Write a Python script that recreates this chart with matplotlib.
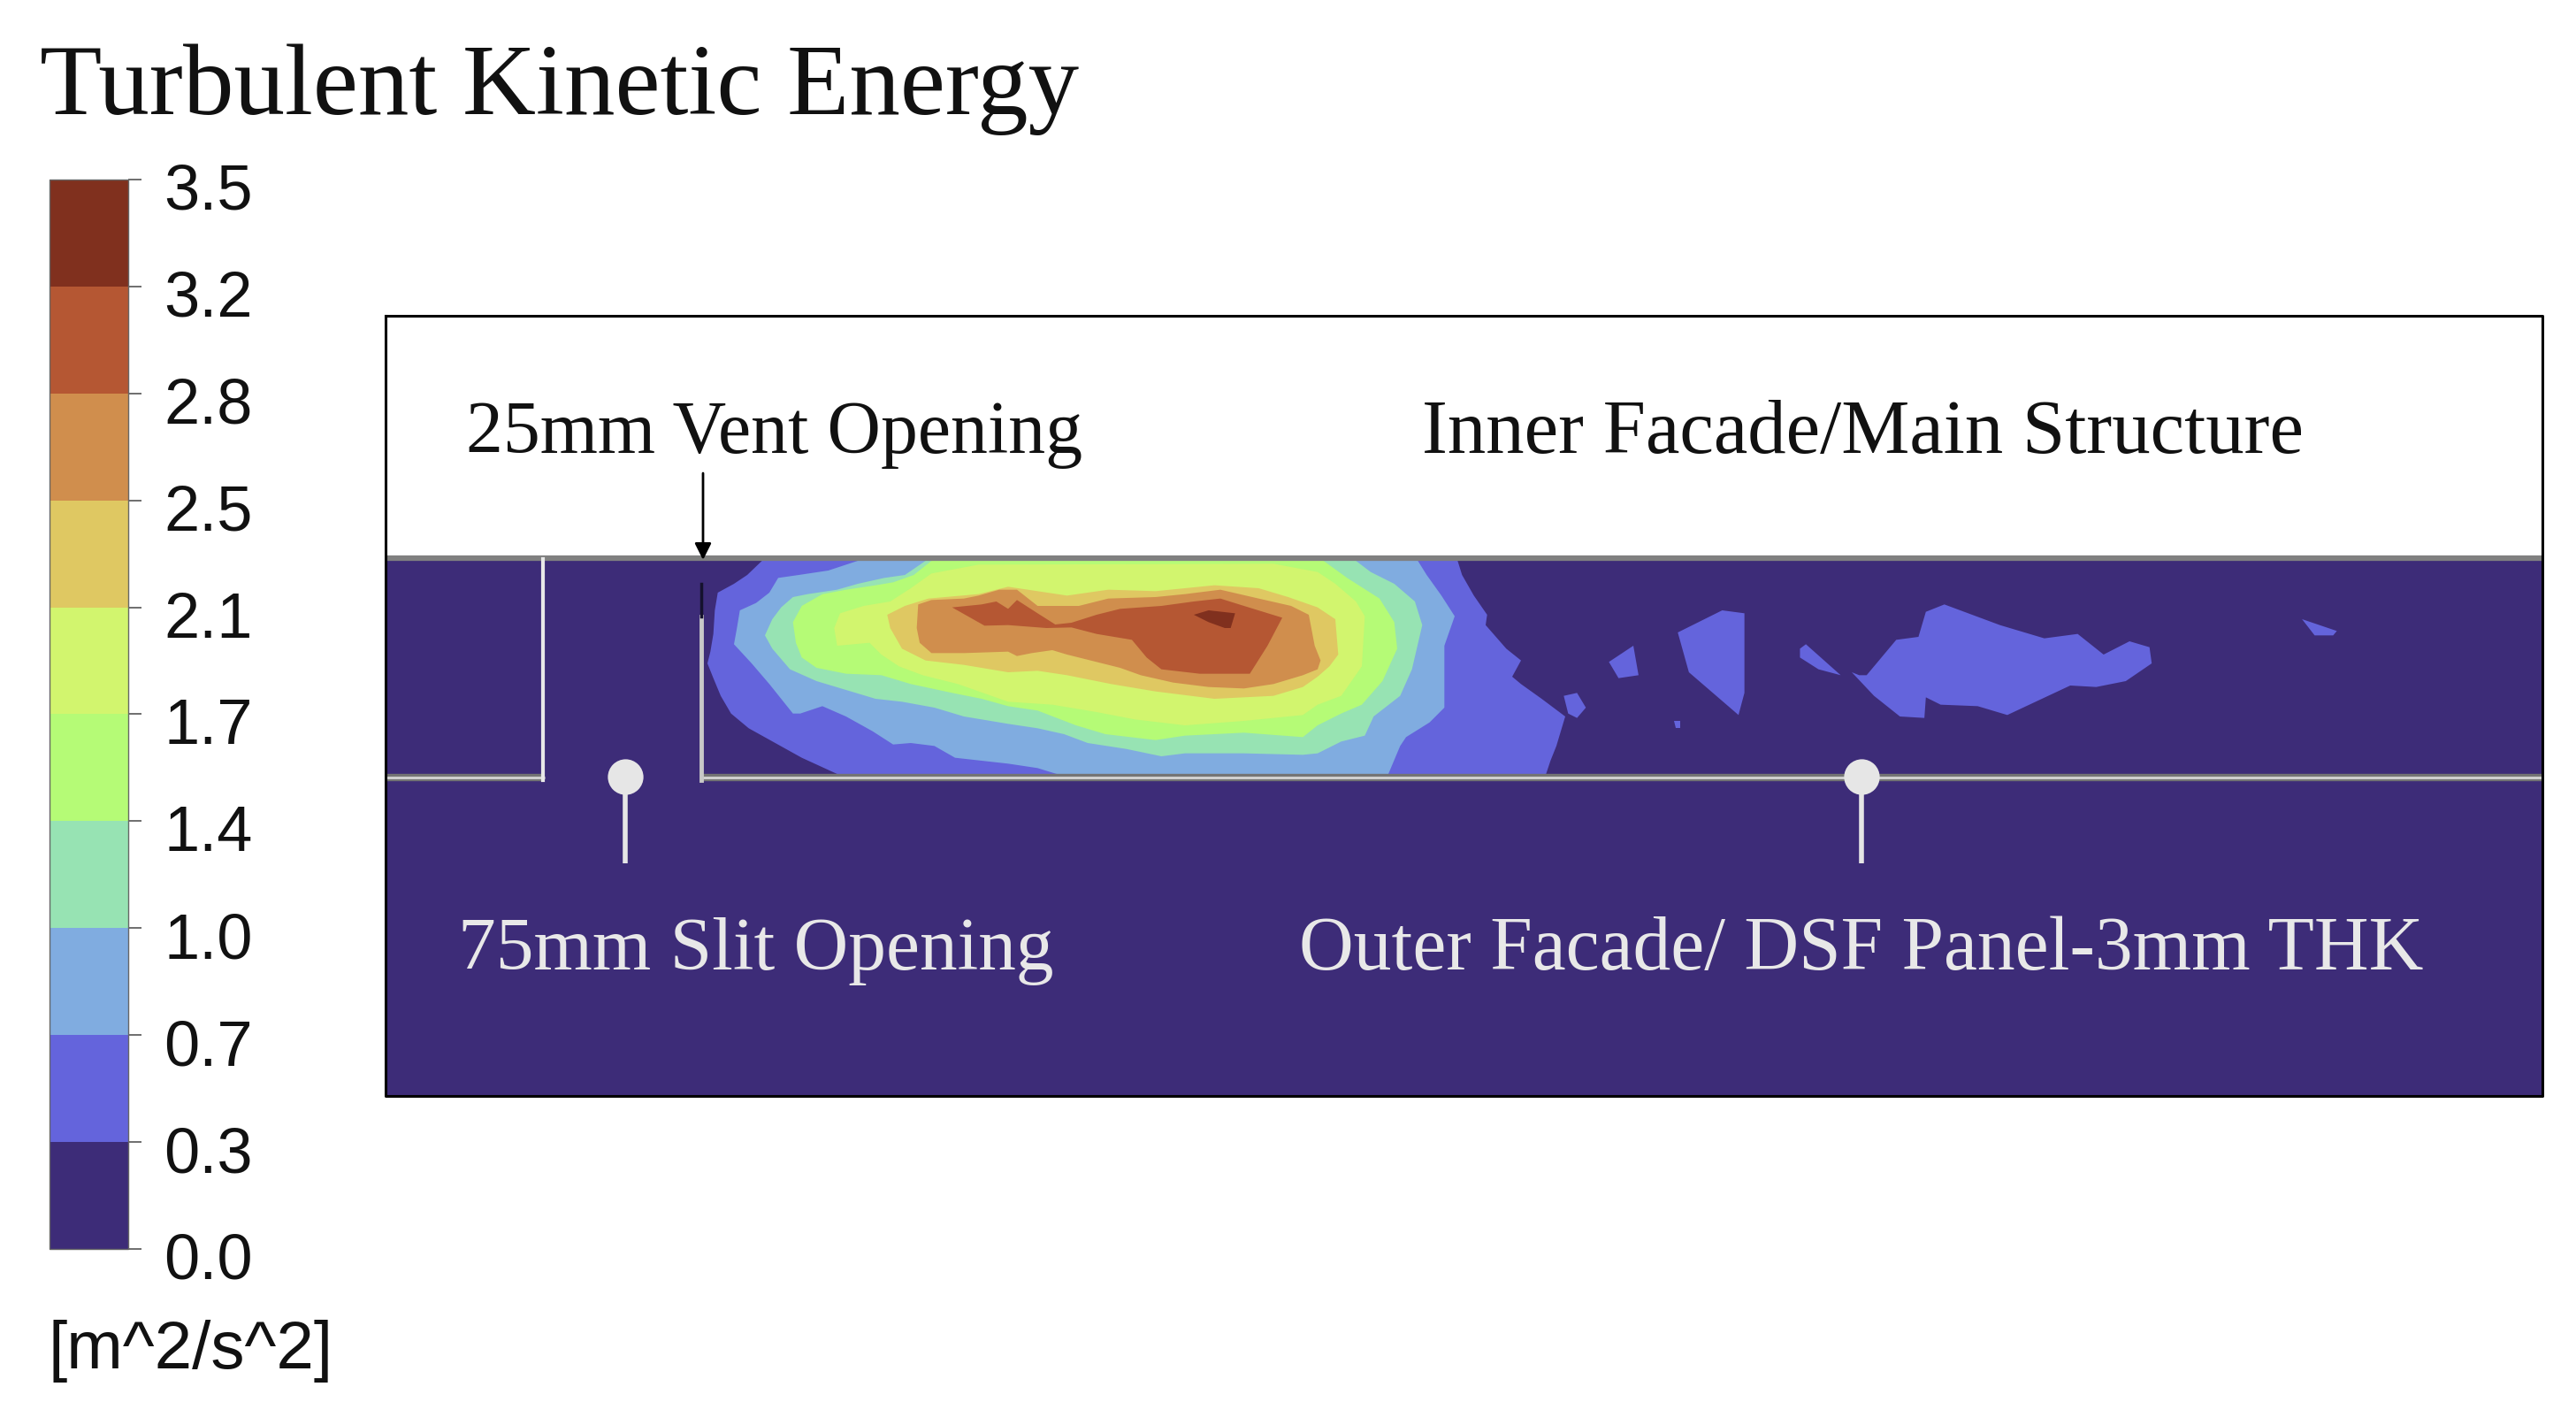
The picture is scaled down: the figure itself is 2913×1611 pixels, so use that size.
import matplotlib
matplotlib.use("Agg")
import matplotlib.pyplot as plt
import numpy as np
from matplotlib.cm import ScalarMappable
from matplotlib.colors import BoundaryNorm, ListedColormap
from matplotlib.transforms import ScaledTranslation

W, H = 2913, 1611

# colour bar
levels = [0.0, 0.3, 0.7, 1.0, 1.4, 1.7, 2.1, 2.5, 2.8, 3.2, 3.5]
band_colors = ['#3d2c78', '#6464dc', '#80ace0', '#97e3b3', '#b5fb76',
               '#d2f56e', '#dfc862', '#d08e4d', '#b55733', '#80301e']

# contour outlines traced off 3x crops: (band index, x list, y list)
# plume crop starts at image (790,630), patches crop at image (1600,600) and is squeezed in x
plume_bands = [
    (1, [215, 165, 120, 65, 55, 50, 40, 30, 50, 75, 110, 170, 260, 350, 470, 2875, 2890, 2910, 2940, 2860, 2790, 2760, 2790, 2740, 2670, 2675, 2630, 2590, 2575],
        [12, 60, 90, 120, 180, 260, 320, 360, 410, 470, 530, 580, 630, 680, 735, 735, 690, 640, 540, 480, 430, 405, 350, 310, 230, 195, 130, 60, 12]),
    (1, [2935, 2980, 3010, 2980, 2950],
        [470, 460, 510, 545, 530]),
    (2, [540, 440, 340, 270, 240, 195, 140, 130, 120, 180, 240, 320, 345, 420, 500, 590, 660, 720, 800, 870, 960, 1050, 1150, 1215, 2340, 2380, 2400, 2480, 2530, 2530, 2565, 2520, 2470, 2440],
        [12, 45, 60, 70, 120, 155, 180, 240, 295, 360, 430, 530, 530, 505, 540, 590, 635, 630, 640, 680, 690, 700, 715, 735, 735, 640, 610, 560, 510, 300, 200, 130, 60, 12]),
    (3, [770, 700, 630, 540, 470, 370, 320, 280, 250, 225, 250, 310, 400, 500, 600, 690, 800, 900, 1050, 1150, 1240, 1320, 1450, 1570, 1650, 1850, 2050, 2100, 2180, 2260, 2290, 2380, 2420, 2455, 2430, 2360, 2280, 2230],
        [12, 60, 70, 90, 110, 125, 135, 170, 210, 265, 310, 380, 420, 450, 480, 490, 510, 540, 565, 580, 600, 630, 650, 675, 665, 665, 670, 665, 625, 605, 540, 470, 380, 230, 150, 90, 50, 12]),
    (4, [790, 730, 660, 600, 500, 420, 350, 320, 330, 350, 400, 500, 620, 720, 860, 960, 1050, 1150, 1280, 1380, 1550, 1650, 1850, 2050, 2100, 2180, 2250, 2320, 2370, 2360, 2310, 2200, 2120],
        [12, 60, 85, 95, 110, 125, 165, 220, 290, 340, 375, 395, 400, 430, 460, 480, 505, 520, 570, 600, 620, 605, 595, 610, 570, 530, 500, 420, 310, 220, 140, 70, 12]),
    (5, [790, 720, 650, 560, 480, 460, 470, 580, 620, 680, 760, 880, 1050, 1200, 1350, 1480, 1650, 1850, 2050, 2100, 2180, 2250, 2260, 2230, 2160, 2100, 1950, 950],
        [55, 105, 150, 165, 190, 240, 300, 290, 330, 370, 400, 430, 490, 500, 525, 550, 570, 555, 535, 500, 470, 370, 200, 150, 90, 50, 22, 25]),
    (6, [640, 650, 690, 770, 900, 1050, 1150, 1250, 1400, 1550, 1750, 1950, 2050, 2100, 2140, 2170, 2160, 2100, 2000, 1900, 1750, 1650, 1550, 1390, 1250, 1150, 1050, 950, 780, 700],
        [195, 240, 310, 350, 365, 390, 385, 400, 430, 455, 480, 470, 440, 405, 370, 330, 210, 170, 135, 105, 95, 105, 115, 110, 130, 115, 100, 125, 140, 165]),
    (7, [745, 790, 900, 950, 1020, 1080, 1150, 1290, 1390, 1550, 1650, 1770, 1900, 2010, 2070, 2090, 2110, 2100, 2050, 1950, 1850, 1730, 1610, 1500, 1430, 1350, 1250, 1200, 1130, 1080, 1050, 900, 790, 750, 740],
        [160, 145, 140, 130, 110, 110, 165, 165, 140, 135, 125, 110, 140, 165, 195, 300, 350, 380, 400, 430, 445, 440, 425, 400, 375, 355, 330, 315, 325, 335, 320, 325, 325, 290, 240]),
    (8, [860, 960, 1010, 1050, 1080, 1150, 1210, 1265, 1350, 1430, 1570, 1680, 1770, 1850, 1980, 1930, 1870, 1700, 1570, 1520, 1470, 1350, 1265, 1180, 1050, 970],
        [170, 160, 150, 175, 145, 190, 228, 222, 195, 175, 165, 150, 140, 165, 205, 300, 395, 395, 380, 340, 280, 260, 238, 240, 230, 232]),
    (9, [1680, 1730, 1820, 1805, 1785, 1730],
        [195, 180, 190, 240, 240, 220]),
]
patch_bands = [
    (1, [262, 295, 302, 275], [445, 390, 490, 500]),
    (1, [355, 415, 445, 445, 437, 370], [345, 270, 280, 550, 625, 480]),
    (1, [520, 528, 575, 545, 520], [400, 385, 490, 470, 430]),
    (1, [590, 600, 610, 650, 680, 690, 715, 790, 850, 895, 930, 965, 992, 995, 960, 920, 885, 800, 760, 710, 690, 688, 655, 620],
        [480, 490, 490, 370, 360, 275, 250, 320, 365, 350, 420, 375, 395, 450, 510, 530, 525, 625, 595, 590, 565, 635, 630, 560]),
    (1, [1198, 1245, 1240, 1215], [300, 340, 355, 355]),
    (1, [350, 358, 358, 352], [645, 645, 670, 670]),
]

fig = plt.figure(figsize=(W / 100, H / 100), dpi=100)
ax = fig.add_axes([0, 0, 1, 1])
ax.set_xlim(0, W)
ax.set_ylim(H, 0)
ax.axis('off')

# domain
ax.fill([436, 2875, 2875, 436], [631, 631, 1239, 1239], color=band_colors[0], lw=0, zorder=1)
ax.plot([436, 2875, 2875, 436, 436], [357, 357, 1239, 1239, 357], color='black', lw=2.2, zorder=6)

for band, xs, ys in plume_bands:
    ax.fill(790 + np.array(xs) / 3, 630 + np.array(ys) / 3, color=band_colors[band], lw=0, zorder=2)
for band, xs, ys in patch_bands:
    ax.fill(1600 + np.array(xs) * 0.8374, 600 + np.array(ys) / 3, color=band_colors[band], lw=0, zorder=2)

# walls
ax.plot([436, 2875], [631, 631], color='#808080', lw=4.5, solid_capstyle='butt', zorder=3)
for x0, x1 in [(436, 616), (792, 2875)]:
    ax.plot([x0, x1], [879, 879], color='#747474', lw=6, solid_capstyle='butt', zorder=3)
    ax.plot([x0, x1], [879, 879], color='#cfcfcf', lw=2.2, solid_capstyle='butt', zorder=4)
ax.plot([614, 614], [632, 882], color='#e8e8e8', lw=3, zorder=4)
ax.plot([793, 793], [697, 882], color='#c8c8c8', lw=3.5, zorder=4)
ax.plot([793, 793], [660, 697], color='#15122e', lw=2.5, zorder=4)

ax.annotate('', xy=(795, 633), xytext=(795, 535),
            arrowprops=dict(arrowstyle='-|>', color='black', lw=2, mutation_scale=28, shrinkA=0, shrinkB=0), zorder=7)

# pins
for x in [707, 2105]:
    ax.plot([x, x], [878, 976], color='#e6e6e6', lw=4, solid_capstyle='butt', zorder=5)
    ax.plot([x], [878], 'o', color='#e6e6e6', ms=29, mew=0, zorder=5)

# labels
serif = 'Liberation Serif'
ax.text(45, 129, 'Turbulent Kinetic Energy', family=serif, fontsize=82.8, color='#111111')
ax.text(527, 512, '25mm Vent Opening', family=serif, fontsize=60.4, color='#111111', zorder=7)
ax.text(1608, 512, 'Inner Facade/Main Structure', family=serif, fontsize=62.5, color='#111111', zorder=7)
ax.text(518, 1096, '75mm Slit Opening', family=serif, fontsize=61.5, color='#e8e8e8', zorder=7)
ax.text(1469, 1096, 'Outer Facade/ DSF Panel-3mm THK', family=serif, fontsize=61.6, color='#e8e8e8', zorder=7)
ax.text(55, 1547, '[m^2/s^2]', family='Liberation Sans', fontsize=55, color='#111111')

# colour bar
cax = fig.add_axes([56 / W, 1 - 1412 / H, 89 / W, 1209 / H])
sm = ScalarMappable(norm=BoundaryNorm(levels, len(band_colors)), cmap=ListedColormap(band_colors))
cb = fig.colorbar(sm, cax=cax, ticks=levels, spacing='uniform', format='%.1f')
cb.outline.set_edgecolor('#666666')
cb.outline.set_linewidth(1)
cb.ax.tick_params(length=11, width=1.2, color='#555555', pad=18, labelsize=52, labelcolor='#111111')
for lab in cb.ax.get_yticklabels():
    lab.set_family('Liberation Sans')
    lab.set_transform(lab.get_transform() + ScaledTranslation(0, -8 / 100, fig.dpi_scale_trans))

fig.savefig('out.png', dpi=100)
